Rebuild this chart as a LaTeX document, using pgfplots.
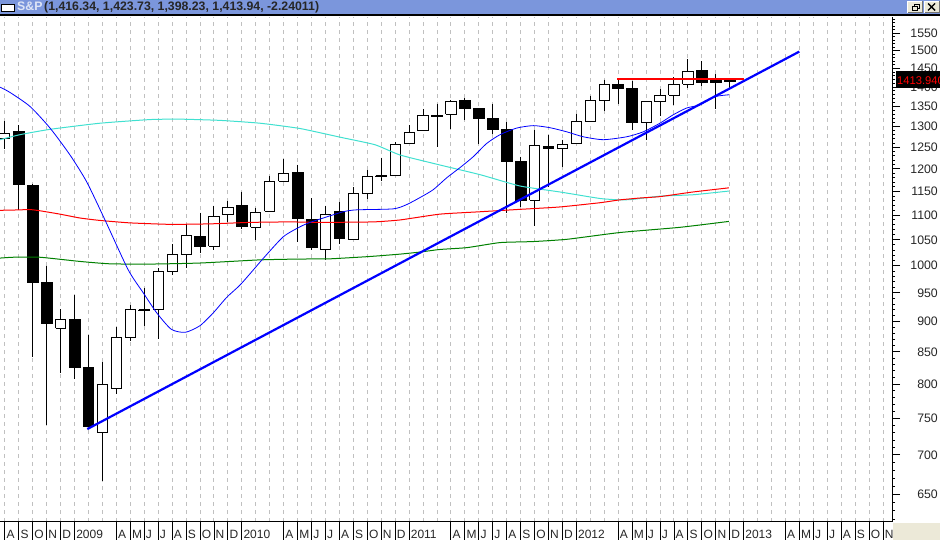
\documentclass[border=0pt]{standalone}
\usepackage{fontspec}
\setmainfont{Liberation Sans}
\usepackage{pgfplots}
\pgfplotsset{compat=1.18}
\definecolor{barblue}{HTML}{7B96DC}
\definecolor{winface}{HTML}{ECE9D8}
\definecolor{teal2}{HTML}{40E0D0}
\definecolor{gridgray}{HTML}{C0C0C0}
\definecolor{grn}{HTML}{008000}

% month index, open, high, low, close
\newcommand\up[5]{%
  \addplot[black, line width=1pt] coordinates {(#1,#3)(#1,#4)};
  \pgfmathsetmacro\xa{#1-0.365}\pgfmathsetmacro\xb{#1+0.365}%
  \edef\tmpbody{\noexpand\addplot[draw=black, line width=1pt, fill=white]
    coordinates {(\xa,#2)(\xb,#2)(\xb,#5)(\xa,#5)(\xa,#2)};}\tmpbody}
\newcommand\dn[5]{%
  \addplot[black, line width=1pt] coordinates {(#1,#3)(#1,#4)};
  \pgfmathsetmacro\xa{#1-0.39}\pgfmathsetmacro\xb{#1+0.39}%
  \edef\tmpbody{\noexpand\addplot[draw=black, line width=1pt, fill=black]
    coordinates {(\xa,#2)(\xb,#2)(\xb,#5)(\xa,#5)(\xa,#2)};}\tmpbody}

\begin{document}
\begin{tikzpicture}[x=1pt,y=1pt]
\useasboundingbox (0,0) rectangle (940,-540);
\clip (0,0) rectangle (940,-540);
\begin{axis}[
  at={(0pt,-522pt)}, anchor=south west,
  scale only axis, width=892pt, height=505pt,
  xmin=-0.3515, xmax=63.64,
  ymode=log, ymin=617, ymax=1598,
  axis y line*=right, axis x line*=bottom,
  axis line style={black, line width=1pt, -},
  xtick={0,...,63},
  xticklabels={A,S,O,N,D,2009,{},{},A,M,J,J,A,S,O,N,D,2010,{},{},A,M,J,J,A,S,O,N,D,2011,{},{},A,M,J,J,A,S,O,N,D,2012,{},{},A,M,J,J,A,S,O,N,D,2013,{},{},A,M,J,J,A,S,O,N},
  xtick style={draw=none},
  xticklabel style={anchor=base west, inner sep=0pt, xshift=1.5pt, yshift=-8.5pt,
    font=\fontsize{12}{12}\selectfont, text=black!85},
  xmajorgrids,
  grid style={gridgray, line width=1pt, dash pattern=on 4pt off 4pt},
  ytick={650,700,750,800,850,900,950,1000,1050,1100,1150,1200,1250,1300,1350,1400,1450,1500,1550},
  yticklabels={650,700,750,800,850,900,950,1000,1050,1100,1150,1200,1250,1300,1350,1400,1450,1500,1550},
  minor ytick={620,630,640,660,670,680,690,710,720,730,740,760,770,780,790,810,820,830,840,860,870,880,890,910,920,930,940,960,970,980,990,1010,1020,1030,1040,1060,1070,1080,1090,1110,1120,1130,1140,1160,1170,1180,1190,1210,1220,1230,1240,1260,1270,1280,1290,1310,1320,1330,1340,1360,1370,1380,1390,1410,1420,1430,1440,1460,1470,1480,1490,1510,1520,1530,1540,1560,1570,1580,1590},
  major tick length=8pt, minor tick length=3pt,
  ytick style={black, line width=1pt},
  tick align=outside,
  yticklabel pos=right,
  yticklabel style={anchor=east, inner sep=0pt, xshift=38pt,
    font=\fontsize{12.3}{12}\selectfont, text=black!85},
]
% monthly candles
\up{0}{1270}{1313}{1247}{1283}
\dn{1}{1288}{1303}{1110}{1165}
\dn{2}{1164}{1167}{842}{969}
\dn{3}{968}{1000}{741}{896}
\up{4}{889}{921}{817}{904}
\dn{5}{904}{947}{808}{825}
\dn{6}{825}{877}{739}{739}
\up{7}{730}{834}{667}{800}
\up{8}{794}{891}{785}{874}
\up{9}{874}{929}{868}{920}
\dn{10}{920}{958}{893}{919}
\up{11}{921}{996}{871}{989}
\up{12}{989}{1042}{983}{1022}
\up{13}{1022}{1081}{995}{1059}
\dn{14}{1057}{1105}{1025}{1036}
\up{15}{1037}{1120}{1030}{1098}
\up{16}{1101}{1130}{1086}{1116}
\dn{17}{1120}{1150}{1072}{1076}
\up{18}{1075}{1114}{1049}{1106}
\up{19}{1108}{1184}{1108}{1172}
\up{20}{1172}{1223}{1172}{1189}
\dn{21}{1191}{1210}{1045}{1092}
\dn{22}{1090}{1136}{1030}{1035}
\up{23}{1031}{1120}{1010}{1101}
\dn{24}{1108}{1128}{1042}{1052}
\up{25}{1050}{1160}{1050}{1145}
\up{26}{1146}{1198}{1134}{1183}
\dn{27}{1185}{1226}{1173}{1182}
\up{28}{1186}{1262}{1186}{1257}
\up{29}{1258}{1303}{1258}{1286}
\up{30}{1290}{1344}{1290}{1327}
\dn{31}{1328}{1357}{1250}{1325}
\up{32}{1330}{1366}{1295}{1363}
\dn{33}{1365}{1371}{1317}{1345}
\dn{34}{1345}{1345}{1258}{1320}
\dn{35}{1320}{1356}{1281}{1292}
\dn{36}{1292}{1311}{1105}{1218}
\dn{37}{1218}{1228}{1116}{1131}
\up{38}{1131}{1292}{1078}{1253}
\dn{39}{1251}{1280}{1160}{1248}
\up{40}{1248}{1268}{1205}{1257}
\up{41}{1260}{1332}{1260}{1312}
\up{42}{1312}{1378}{1312}{1365}
\up{43}{1365}{1420}{1339}{1408}
\dn{44}{1408}{1422}{1357}{1397}
\dn{45}{1397}{1415}{1292}{1310}
\up{46}{1309}{1362}{1267}{1362}
\up{47}{1362}{1394}{1326}{1379}
\up{48}{1379}{1426}{1354}{1408}
\up{49}{1408}{1476}{1397}{1441}
\dn{50}{1444}{1470}{1403}{1413}
\dn{51}{1417}{1434}{1343}{1412}
\dn{52}{1416.34}{1423.73}{1398.23}{1413.94}
% long average
\addplot[teal2, line width=1pt, smooth, tension=0.3] coordinates {
  (-0.35,1268)(1.08,1280)(3.24,1293)(6.82,1308)(10.41,1317)(12.56,1318)(15.43,1315)(18.3,1308)
  (21.17,1295)(24.04,1274)(26.55,1256)(28.34,1232)(31.2,1209)(34.1,1187)(36.95,1162)(39.82,1149)
  (42.69,1135)(44.12,1132)(45,1133)(47,1140)(49.36,1143)(51.94,1151)};
% red average
\addplot[red, line width=1pt, smooth, tension=0.3] coordinates {
  (-0.35,1110)(0.58,1110.5)(1.8,1111.5)(2.52,1109)(3.95,1102)(5.39,1094)(6.82,1089)(8.97,1084)
  (11.84,1081)(14.71,1082)(17.58,1085)(20.45,1086)(22.6,1085)(26.4,1086)(28.34,1090)(31.2,1102)
  (34.1,1107)(36.95,1112)(39.8,1117)(42.7,1126)(44.1,1132)(45.56,1136)(47,1139)(49.36,1149)(51.94,1158)};
% green average
\addplot[grn, line width=1pt, smooth, tension=0.3] coordinates {
  (-0.35,1014.4)(0.58,1016)(2.52,1016)(5.39,1008)(7.54,1003.5)(10.41,1003)(14,1005)(18.3,1011)
  (21.17,1012.6)(23.32,1013)(26.2,1017.5)(28.34,1022)(29.78,1026)(31.2,1031)(33.15,1034.6)(35.52,1044.5)
  (37.88,1046.5)(40.32,1051)(44.12,1064.5)(48.43,1075)(51.94,1087)};
% short average
\addplot[blue, line width=0.8pt, smooth, tension=0.4] coordinates {
  (-0.35,1400)(0.37,1386)(1.8,1350)(3.24,1296)(4.67,1232)(5.87,1171)(7.18,1090)(8.85,992)
  (9.93,950)(10.89,915)(11.94,887)(12.94,882)(13.99,893)(14.95,915)(15.91,942)(16.86,964)
  (17.82,992)(18.54,1014)(19.97,1056)(21.17,1076)(21.89,1085)(22.84,1094)(24.28,1107)(25.24,1111)
  (27.86,1113)(28.82,1122)(29.78,1137)(30.73,1154)(31.69,1180)(32.65,1203)(33.6,1228)(34.56,1259)
  (35.52,1280)(36.71,1296)(37.91,1302)(39.1,1297)(40.3,1287)(41.49,1275)(42.93,1268)(44.61,1275)
  (45.8,1287)(46.99,1308)(47.95,1329)(48.91,1346)(49.86,1354)(50.94,1375)(51.94,1380)};
% hand-drawn trend line and resistance
\addplot[blue, line width=2.2pt] coordinates {(5.91,735)(56.99,1497)};
\addplot[red, line width=2.2pt] coordinates {(43.93,1422)(53.02,1422)};
\end{axis}
% separators of the date strip
\foreach \i in {0,1,2,3,4,5,8,9,10,11,12,13,14,15,16,17,20,21,22,23,24,25,26,27,28,29,32,33,34,35,36,37,38,39,40,41,44,45,46,47,48,49,50,51,52,53,56,57,58,59,60,61,62,63}
  \draw[black, line width=1pt] ({4.9+13.94*\i},-522) -- ++(0,-18);
\fill[winface] (892.5,-523) rectangle (940,-540);
% last price flag
\fill[black] (896,-71.5) rectangle (940,-88.5);
\begin{scope}
\clip (896,-71.5) rectangle (940,-88.5);
\node[anchor=base west, inner sep=0pt, text=red, font=\fontsize{11.2}{12}\selectfont] at (897,-84.5) {1413.940};
\end{scope}
% title bar
\fill[barblue] (0,0) rectangle (940,-14.5);
\fill[black] (0,-14.5) rectangle (940,-16);
\draw[black, fill=white, line width=1pt] (1,-4.5) rectangle (14,-12);
\node[anchor=base west, inner sep=0pt, font=\fontsize{12.3}{12}\selectfont\bfseries, text=white!75!barblue] at (17,-11) {S\&P};
\node[anchor=base west, inner sep=0pt, font=\fontsize{12.3}{12}\selectfont\bfseries, text=black!85] at (44,-11) {(1,416.34, 1,423.73, 1,398.23, 1,413.94, -2.24011)};
% window buttons
\fill[white] (907,-1) rectangle (922,-13);
\fill[winface] (908,-2) rectangle (922,-13);
\draw[black!55, line width=0.8pt] (908,-12.6) -- (922,-12.6) -- (922,-1);
\draw[black, line width=0.8pt] (912,-6) rectangle (917,-10);
\draw[black, line width=0.8pt] (914,-6) -- (914,-4) -- (919,-4) -- (919,-8) -- (917,-8);
\fill[white] (924,-1) rectangle (939,-13);
\fill[winface] (925,-2) rectangle (939,-13);
\draw[black!55, line width=0.8pt] (925,-12.6) -- (939,-12.6) -- (939,-1);
\draw[black, line width=1.4pt] (928,-3.5) -- (935,-10.5) (935,-3.5) -- (928,-10.5);
\end{tikzpicture}
\end{document}
